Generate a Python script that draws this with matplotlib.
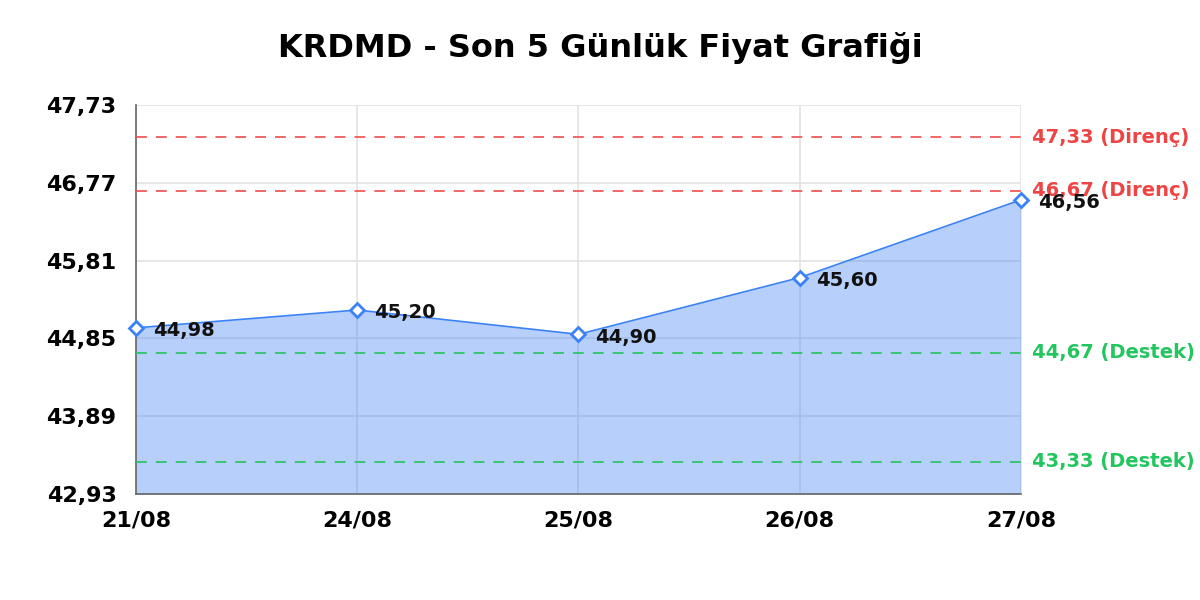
import matplotlib
matplotlib.use("Agg")
import matplotlib.pyplot as plt

# Price data for the last 5 days
dates = ["21/08", "24/08", "25/08", "26/08", "27/08"]
prices = [44.98, 45.20, 44.90, 45.60, 46.56]

# Support / resistance levels
resistance = [47.33, 46.67]
support = [44.67, 43.33]

# Y axis ticks
y_ticks = [42.93, 43.89, 44.85, 45.81, 46.77, 47.73]


def fmt(v):
    return f"{v:.2f}".replace(".", ",")


plt.rcParams["font.family"] = "DejaVu Sans"

fig = plt.figure(figsize=(12, 6), dpi=100)
ax = fig.add_axes([0.1133, 0.1767, 0.7375, 0.6483])

x = list(range(len(dates)))
ax.fill_between(x, prices, y_ticks[0], color="#3b82f6", alpha=0.37, lw=0, zorder=2)
ax.plot(x, prices, color="#3b82f6", lw=1.2, zorder=3)
ax.plot(x, prices, ls="none", marker="D", markersize=7.5, markerfacecolor="white",
        markeredgecolor="#3b82f6", markeredgewidth=2, zorder=5, clip_on=False)

for xi, p in zip(x, prices):
    ax.annotate(fmt(p), (xi, p), xytext=(12, -2), textcoords="offset points",
                ha="left", va="center", fontsize=14, fontweight="bold", color="#111111",
                zorder=6, annotation_clip=False)

for lvl in resistance:
    ax.axhline(lvl, color="#f05a5a", ls=(0, (6, 5)), lw=1.3, zorder=4)
    ax.text(1.012, lvl, f"{fmt(lvl)} (Direnç)", transform=ax.get_yaxis_transform(),
            ha="left", va="center", fontsize=14, fontweight="bold", color="#ef4444", clip_on=False)
for lvl in support:
    ax.axhline(lvl, color="#2fc468", ls=(0, (6, 5)), lw=1.3, zorder=4)
    ax.text(1.012, lvl, f"{fmt(lvl)} (Destek)", transform=ax.get_yaxis_transform(),
            ha="left", va="center", fontsize=14, fontweight="bold", color="#22c55e", clip_on=False)

ax.set_xlim(0, len(dates) - 1)
ax.set_ylim(y_ticks[0], y_ticks[-1])
ax.set_xticks(x)
ax.set_xticklabels(dates)
ax.set_yticks(y_ticks)
ax.set_yticklabels([fmt(v) for v in y_ticks])
ax.tick_params(axis="both", length=0, labelsize=16)
ax.tick_params(axis="x", pad=12)
ax.tick_params(axis="y", pad=14)
for lbl in ax.get_xticklabels() + ax.get_yticklabels():
    lbl.set_fontweight("bold")

ax.grid(True, color="#e3e3e3", lw=1.2, zorder=1)
ax.set_axisbelow(True)
for side in ["top", "right"]:
    ax.spines[side].set_visible(False)
for side in ["left", "bottom"]:
    ax.spines[side].set_color("#666666")
    ax.spines[side].set_linewidth(1.2)

fig.text(0.5, 0.92, "KRDMD - Son 5 Günlük Fiyat Grafiği", fontsize=23, fontweight="bold",
         ha="center", va="center")

fig.savefig("out.png", dpi=100)
